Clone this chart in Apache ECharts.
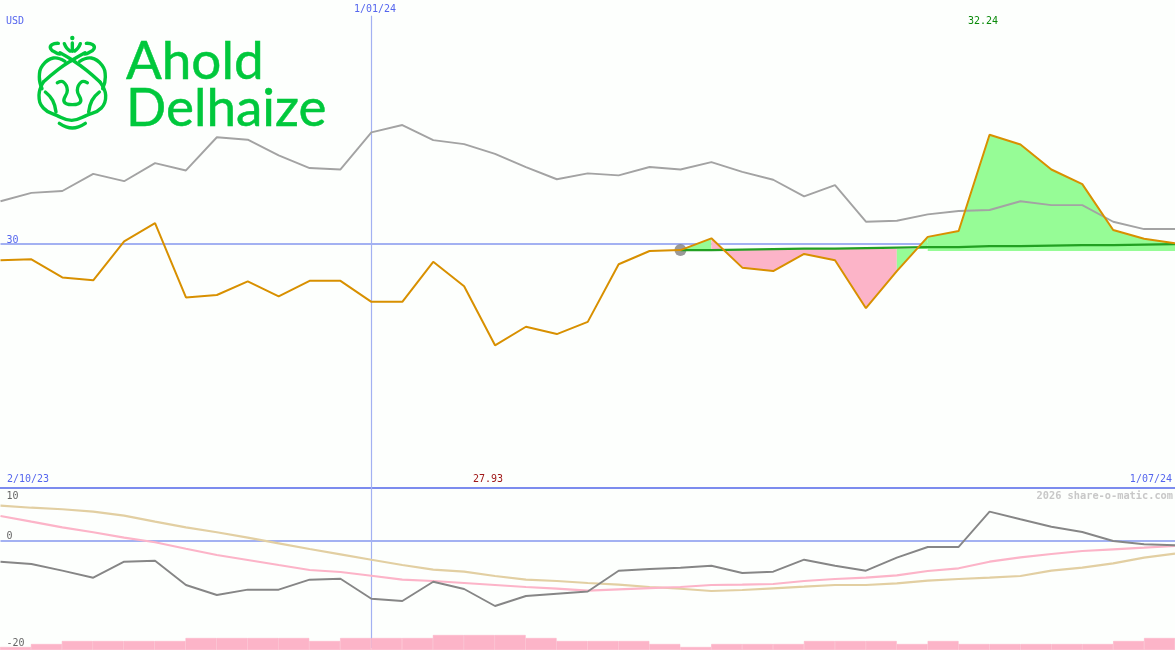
<!DOCTYPE html>
<html><head><meta charset="utf-8">
<style>html,body{margin:0;padding:0;background:#fdfffd}#c{width:1175px;height:650px}</style>
<script src="https://cdn.jsdelivr.net/npm/echarts@6/dist/echarts.min.js"></script>
</head><body><div id="c"></div>
<script>
const price = [29.67,29.69,29.32,29.26,30.06,30.43,28.91,28.96,29.24,28.93,29.25,29.25,28.82,28.82,29.64,29.14,27.93,28.31,28.16,28.41,29.59,29.86,29.88,30.12,29.52,29.45,29.80,29.67,28.69,29.45,30.15,30.27,32.24,32.04,31.53,31.23,30.29,30.11,30.02];
const compare = [30.88,31.05,31.09,31.44,31.29,31.66,31.51,32.19,32.14,31.82,31.56,31.53,32.29,32.44,32.13,32.05,31.85,31.58,31.33,31.45,31.41,31.58,31.53,31.68,31.48,31.32,30.98,31.21,30.46,30.48,30.61,30.68,30.70,30.88,30.80,30.80,30.46,30.31,30.31];
const average = [null,null,null,null,null,null,null,null,null,null,null,null,null,null,null,null,null,null,null,null,null,null,29.88,29.88,29.89,29.90,29.91,29.91,29.92,29.93,29.94,29.94,29.96,29.96,29.97,29.98,29.98,29.99,30.00];
const startPoint = [[22,29.88]];
const momentum = [-3.87,-4.30,-5.55,-6.86,-3.87,-3.68,-8.22,-10.09,-9.10,-9.10,-7.23,-7.05,-10.79,-11.21,-7.61,-8.97,-12.15,-10.28,-9.85,-9.44,-5.55,-5.23,-4.99,-4.62,-5.98,-5.74,-3.50,-4.62,-5.55,-3.12,-1.12,-1.12,5.48,4.06,2.67,1.68,0.00,-0.62,-0.80];
const signalFast = [4.67,3.61,2.56,1.63,0.62,-0.24,-1.44,-2.62,-3.55,-4.49,-5.42,-5.79,-6.49,-7.23,-7.48,-7.85,-8.22,-8.60,-8.92,-9.29,-9.03,-8.79,-8.60,-8.22,-8.17,-8.04,-7.48,-7.10,-6.86,-6.41,-5.61,-5.10,-3.87,-3.05,-2.43,-1.87,-1.55,-1.25,-0.93];
const signalSlow = [6.60,6.22,5.93,5.48,4.73,3.61,2.56,1.63,0.62,-0.43,-1.50,-2.49,-3.50,-4.49,-5.36,-5.74,-6.54,-7.23,-7.48,-7.85,-8.17,-8.60,-8.92,-9.35,-9.16,-8.84,-8.54,-8.22,-8.22,-7.91,-7.42,-7.10,-6.86,-6.54,-5.55,-4.99,-4.17,-3.12,-2.37];
const volume = [1,2,3,3,3,3,4,4,4,4,3,4,4,4,5,5,5,4,3,3,3,2,1,2,2,2,3,3,3,2,3,2,2,2,2,2,3,4];
const labels = {currency:'USD', cursorDate:'1/01/24', high:'32.24', low:'27.93', startDate:'2/10/23', endDate:'1/07/24', credit:'2026 share-o-matic.com', brand1:'Ahold', brand2:'Delhaize'};
const cursorIndex = 12, refPrice = 30, refMomentum = 0;
const baseLoss = 29.90, baseGainA = 29.88, baseGainB = 29.90, baseGainC = 29.86;

const slots = price.map((_, i) => String(i));
const volSlots = volume.map((_, i) => String(i));
const part = (a, b) => price.map((v, i) => (i >= a && i <= b ? v : null));

const BLUE='#a3b1f2', MONO='"DejaVu Sans Mono", monospace', TXTBLUE='#5566ee', LOGO='#00c83c';
const hiddenX = (gridIndex, data, extra) => Object.assign({type:'category',gridIndex,data,boundaryGap:false,axisLine:{show:false},axisTick:{show:false},axisLabel:{show:false},splitLine:{show:false}}, extra||{});

const area = (name, data, origin, color) => ({name, type:'line', xAxisIndex:0, yAxisIndex:0, data, z:3, symbol:'none', silent:true,
  lineStyle:{width:0}, areaStyle:{color, opacity:1, origin}, connectNulls:false});
const line = (name, data, color, width, ax, z) => ({name, type:'line', xAxisIndex:ax, yAxisIndex:ax, data, z, symbol:'none', silent:true, lineStyle:{color, width}, connectNulls:false});
const hline = (ax, val, top, bottom) => ({type:'line',xAxisIndex:ax,yAxisIndex:ax,data:[],z:1,silent:true,symbol:'none',
  markLine:{silent:true,symbol:'none',z:1,label:{show:false},animation:false,data:[
    {yAxis:val,lineStyle:{color:BLUE,width:2,type:'solid'}},
    [{coord:[String(cursorIndex),top],lineStyle:{color:BLUE,width:1.2,type:'solid',opacity:1}},{coord:[String(cursorIndex),bottom],lineStyle:{color:BLUE,width:1.2,type:'solid',opacity:1}}]
  ]}});

// lion mark, drawn in crop coordinates of the logo box
const Z = pts => pts.map(([x,y]) => [30+x/3, 32+y/3]);
const stroke = (pts) => ({type:'polyline', silent:true, shape:{points:Z(pts), smooth:0.45}, style:{stroke:LOGO, lineWidth:3.4, fill:'none', lineCap:'round'}});
const logoStrokes = [
  [[127,33],[127,58]],
  [[85,34],[66,38],[62,50],[78,62],[90,66]],
  [[169,34],[188,38],[192,50],[176,62],[164,66]],
  [[103,35],[110,48],[120,57]],
  [[151,35],[144,48],[134,57]],
  [[90,62],[127,84],[170,115],[210,150]],
  [[165,62],[127,84],[85,112],[40,150]],
  [[105,88],[70,78],[38,100],[28,135],[36,170]],
  [[149,88],[184,78],[216,100],[226,135],[218,170]],
  [[40,150],[27,190],[40,228],[80,250],[125,265],[170,250],[214,228],[227,190],[210,150]],
  [[46,180],[68,205],[78,240]],
  [[208,180],[186,205],[176,240]],
  [[82,152],[100,150],[112,175],[102,208],[127,218],[152,208],[142,175],[154,150],[172,152]],
  [[88,274],[127,288],[166,274]]
];
const txt = (t,x,y,color,align,extra) => ({type:'text',silent:true,x,y,style:Object.assign({text:t,fill:color,font:'10px '+MONO,textAlign:align,textVerticalAlign:'middle'},extra||{})});
const brand = (t,y) => ({type:'text',silent:true,x:126,y,style:{text:t,fill:LOGO,stroke:LOGO,lineWidth:0.5,font:'400 53px Lato, sans-serif',textAlign:'left',textVerticalAlign:'middle'}});

const chart = echarts.init(document.getElementById('c'), null, {renderer:'canvas'});
chart.setOption({
  animation:false, backgroundColor:'#fdfffd',
  grid:[
    {left:0.5,width:1176,top:-1.2,height:489.6},
    {left:0.5,width:1176,top:487.5,height:160.5},
    {left:0,width:1176,top:620,height:30}
  ],
  xAxis:[
    hiddenX(0,slots),
    hiddenX(1,slots,{position:'top',axisLine:{show:true,onZero:false,lineStyle:{color:'#7c8cee',width:2}}}),
    hiddenX(2,volSlots,{boundaryGap:true})
  ],
  yAxis:[
    {type:'value',gridIndex:0,min:25,max:35,interval:5,splitLine:{show:false},axisLine:{show:false},axisTick:{show:false},
      axisLabel:{inside:true,margin:6,color:TXTBLUE,fontFamily:MONO,fontSize:10,verticalAlign:'bottom',lineHeight:7,formatter:v=>v===30?'30':''}},
    {type:'value',gridIndex:1,min:-20,max:10,interval:10,splitLine:{show:false},axisLine:{show:false},axisTick:{show:false},
      axisLabel:{inside:true,margin:6,color:'#666',fontFamily:MONO,fontSize:10,verticalAlign:'bottom',lineHeight:10,padding:[4,0,0,0],
        verticalAlignMaxLabel:'top',formatter:v=>v===-10?'':String(v)}},
    {type:'value',gridIndex:2,min:0,max:10,show:false}
  ],
  series:[
    hline(0,refPrice,34.68,25),
    hline(1,refMomentum,10,-20),
    area('gainA',part(22,23),baseGainA,'#96fc96'),
    area('loss',part(23,29),baseLoss,'#fcb4c8'),
    area('gainB',part(29,30),baseGainB,'#96fc96'),
    area('gainC',part(30,38),baseGainC,'#96fc96'),
    {type:'scatter',xAxisIndex:0,yAxisIndex:0,data:startPoint,symbol:'circle',symbolSize:12,z:4,silent:true,itemStyle:{color:'#808080'}},
    line('compare',compare,'#a3a3a3',1.9,0,4),
    line('average',average,'#22a022',2.2,0,5),
    line('price',price,'#d89000',2,0,6),
    line('signalSlow',signalSlow,'#e2cfa2',2.2,1,3),
    line('signalFast',signalFast,'#fcb4c8',2.2,1,4),
    line('momentum',momentum,'#868686',1.9,1,5),
    {name:'volume',type:'bar',xAxisIndex:2,yAxisIndex:2,data:volume,barWidth:'100%',z:6,silent:true,itemStyle:{color:'#fcb4c8',borderColor:'#fcb4c8',borderWidth:0.6}}
  ],
  graphic:[
    txt(labels.currency,6,21,TXTBLUE,'left'),
    txt(labels.cursorDate,375,9,TXTBLUE,'center'),
    txt(labels.high,983,21,'#0a8a0a','center'),
    txt(labels.low,488,479,'#a01818','center'),
    txt(labels.startDate,7,479,TXTBLUE,'left'),
    txt(labels.endDate,1172,479,TXTBLUE,'right'),
    txt(labels.credit,1173,496,'#c8c8c8','right',{font:'bold 10.3px '+MONO}),
    brand(labels.brand1,62), brand(labels.brand2,109),
    {type:'circle',silent:true,shape:{cx:72.3,cy:38,r:2.2},style:{fill:LOGO}},
    ...logoStrokes.map(p=>stroke(p))
  ]
});
</script></body></html>
